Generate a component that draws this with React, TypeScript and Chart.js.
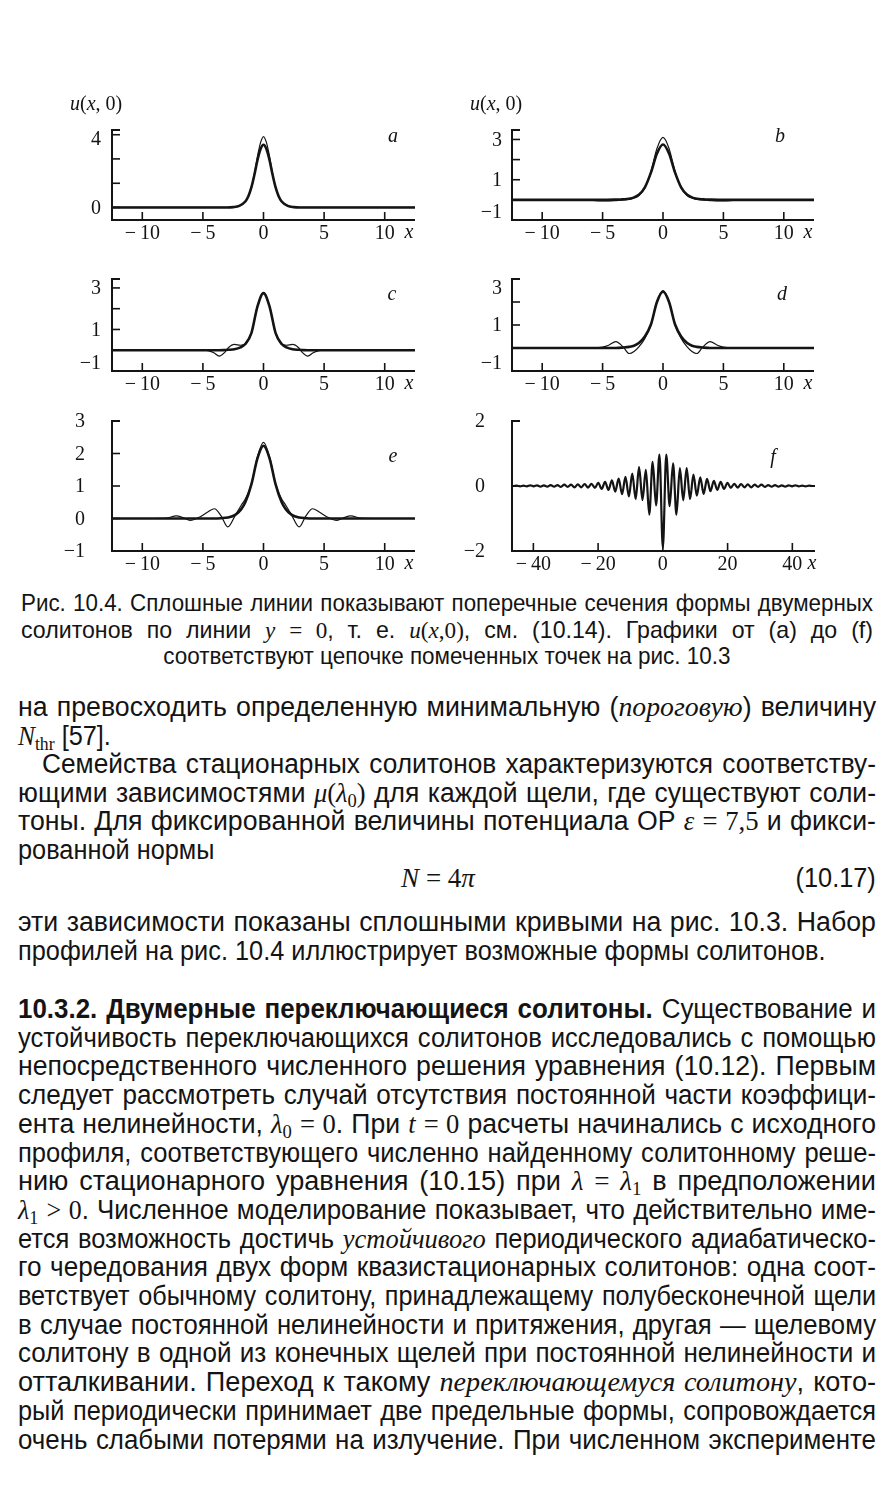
import React, { useEffect, useLayoutEffect, useRef, useState } from "react";
import { Chart, registerables } from "chart.js";

Chart.register(...registerables);

// ---------- DATA ----------
const xTicksNarrow = [-10, -5, 0, 5, 10];
const xLabelsNarrow = ["\u2212\u200910", "\u2212\u20095", "0", "5", "10"];
const xTicksWide = [-40, -20, 0, 20, 40];
const xLabelsWide = ["\u2212\u200940", "\u2212\u200920", "0", "20", "40"];

// panel a
const aX = [-12.5, -6, -4, -3, -2.5, -2, -1.5, -1.25, -1, -0.75, -0.5, -0.25, 0, 0.25, 0.5, 0.75, 1, 1.25, 1.5, 2, 2.5, 3, 4, 6, 12.5];
const aThick = [0, 0, 0, 0, 0.02, 0.09, 0.33, 0.62, 1.1, 1.8, 2.6, 3.2, 3.45, 3.2, 2.6, 1.8, 1.1, 0.62, 0.33, 0.09, 0.02, 0, 0, 0, 0];
const aThin = [0, 0, 0, 0, 0.02, 0.09, 0.33, 0.62, 1.1, 1.85, 2.8, 3.55, 3.9, 3.55, 2.8, 1.85, 1.1, 0.62, 0.33, 0.09, 0.02, 0, 0, 0, 0];
const aYTicks = [0, 1.33, 2.67, 4];
const aYLabels = ["0", "", "", "4"];

// panel b
const bX = [-12.5, -8, -6, -5, -4, -3.5, -3, -2.5, -2, -1.5, -1, -0.5, 0, 0.5, 1, 1.5, 2, 2.5, 3, 3.5, 4, 5, 6, 8, 12.5];
const bThick = [0, 0, 0, 0, 0.01, 0.02, 0.04, 0.1, 0.25, 0.62, 1.35, 2.3, 2.75, 2.3, 1.35, 0.62, 0.25, 0.1, 0.04, 0.02, 0.01, 0, 0, 0, 0];
const bThin = [0, 0, -0.02, -0.05, -0.04, -0.01, 0.01, 0.07, 0.22, 0.6, 1.4, 2.55, 3.1, 2.55, 1.4, 0.6, 0.22, 0.07, 0.01, -0.01, -0.04, -0.05, -0.02, 0, 0];
const bYTicks = [-1, 1, 2, 3];
const bYLabels = ["\u22121", "1", "", "3"];

// panel c
const cX = [-12.5, -8, -6, -5, -4.5, -4.1, -3.65, -3.2, -2.9, -2.4, -1.9, -1.5, -1, -0.5, 0, 0.5, 1, 1.5, 1.9, 2.4, 2.9, 3.2, 3.65, 4.1, 4.5, 5, 6, 8, 12.5];
const cThick = [0, 0, 0, 0, 0, 0, 0, 0.01, 0.02, 0.05, 0.14, 0.3, 0.82, 2.1, 2.75, 2.1, 0.82, 0.3, 0.14, 0.05, 0.02, 0.01, 0, 0, 0, 0, 0, 0, 0];
const cThin = [0, 0, 0.01, 0, -0.03, -0.12, -0.28, -0.1, 0.12, 0.28, 0.24, 0.3, 0.8, 2.12, 2.78, 2.12, 0.8, 0.3, 0.24, 0.28, 0.12, -0.1, -0.28, -0.12, -0.03, 0, 0.01, 0, 0];
const cYTicks = [-1, 1, 2, 3];
const cYLabels = ["\u22121", "1", "", "3"];

// panel d
const dX = [-12.5, -8, -6, -5, -4.5, -3.9, -3.3, -2.8, -2.4, -2, -1.5, -1, -0.5, 0, 0.5, 1, 1.5, 2, 2.4, 2.8, 3.3, 3.9, 4.5, 5, 6, 8, 12.5];
const dThick = [0, 0, 0, 0, 0, 0, 0.02, 0.05, 0.1, 0.22, 0.5, 1.02, 2.0, 2.45, 2.0, 1.02, 0.5, 0.22, 0.1, 0.05, 0.02, 0, 0, 0, 0, 0, 0];
const dThin = [0, -0.02, 0, 0.04, 0.12, 0.28, 0.05, -0.24, -0.15, 0.05, 0.42, 1.0, 2.02, 2.5, 2.02, 1.0, 0.42, 0.05, -0.15, -0.24, 0.05, 0.28, 0.12, 0.04, 0, -0.02, 0];
const dYTicks = [-1, 1, 2, 3];
const dYLabels = ["\u22121", "1", "", "3"];

// panel e
const eX = [-12.5, -9, -8, -7.2, -6.6, -6, -5.3, -4.6, -4.05, -3.5, -2.95, -2.3, -1.85, -1.5, -1, -0.5, 0, 0.5, 1, 1.5, 1.85, 2.3, 2.95, 3.5, 4.05, 4.6, 5.3, 6, 6.6, 7.2, 8, 9, 12.5];
const eThick = [0, 0, 0, 0, 0, 0, 0, 0, 0, 0.01, 0.03, 0.12, 0.28, 0.5, 1.05, 1.85, 2.24, 1.85, 1.05, 0.5, 0.28, 0.12, 0.03, 0.01, 0, 0, 0, 0, 0, 0, 0, 0, 0];
const eThin = [0, 0, 0.01, 0.08, 0.02, -0.06, 0.04, 0.2, 0.3, 0.08, -0.26, 0.12, 0.4, 0.6, 1.05, 1.9, 2.34, 1.9, 1.05, 0.6, 0.4, 0.12, -0.26, 0.08, 0.3, 0.2, 0.04, -0.06, 0.02, 0.08, 0.01, 0, 0];
const eYTicks = [-1, 0, 1, 2, 3];
const eYLabels = ["\u22121", "0", "1", "2", "3"];

// panel f
const fX = [-47, -46.2, -45.15, -44.1, -43.05, -42, -40.95, -39.9, -38.85, -37.8, -36.75, -35.7, -34.65, -33.6, -32.55, -31.5, -30.45, -29.4, -28.35, -27.3, -26.25, -25.2, -24.15, -23.1, -22.05, -21, -19.95, -18.9, -17.85, -16.8, -15.75, -14.7, -13.65, -12.6, -11.55, -10.5, -9.45, -8.4, -7.35, -6.3, -5.25, -4.2, -3.15, -2.1, -1.05, 0, 1.05, 2.1, 3.15, 4.2, 5.25, 6.3, 7.35, 8.4, 9.45, 10.5, 11.55, 12.6, 13.65, 14.7, 15.75, 16.8, 17.85, 18.9, 19.95, 21, 22.05, 23.1, 24.15, 25.2, 26.25, 27.3, 28.35, 29.4, 30.45, 31.5, 32.55, 33.6, 34.65, 35.7, 36.75, 37.8, 38.85, 39.9, 40.95, 42, 43.05, 44.1, 45.15, 46.2, 47];
const fU = [0, 0, 0.01, -0.01, 0.01, -0.01, 0.02, -0.01, 0.02, -0.02, 0.02, -0.02, 0.03, -0.02, 0.03, -0.03, 0.04, -0.03, 0.04, -0.04, 0.05, -0.04, 0.06, -0.05, 0.07, -0.06, 0.1, -0.09, 0.13, -0.12, 0.17, -0.17, 0.23, -0.25, 0.28, -0.32, 0.38, -0.4, 0.58, -0.43, 0.5, -0.88, 0.74, -0.6, 0.97, -1.9, 0.97, -0.62, 0.7, -0.88, 0.55, -0.44, 0.55, -0.4, 0.35, -0.3, 0.27, -0.24, 0.22, -0.16, 0.16, -0.12, 0.13, -0.09, 0.1, -0.06, 0.07, -0.05, 0.06, -0.04, 0.05, -0.04, 0.04, -0.03, 0.04, -0.03, 0.03, -0.02, 0.03, -0.02, 0.02, -0.02, 0.02, -0.01, 0.02, -0.01, 0.01, -0.01, 0.01, 0, 0];
const fYTicks = [-2, 0, 2];
const fYLabels = ["\u22122", "0", "2"];

// ---------- STYLE / LAYOUT ----------
const SERIF = "'Liberation Serif', 'DejaVu Serif', serif";
const SANS = "'Liberation Sans', Arial, sans-serif";
const INK = "#141414";
const PAD = { left: 70, top: 45, right: 30, bottom: 30 };
const THICK = 2.6;
const THIN = 1.2;

type Panel = {
  xs: number[];
  series: { values: number[]; width: number }[];
  xMin: number; xMax: number; yMin: number; yMax: number;
  xTicks: number[]; xLabels: string[];
  yTicks: number[]; yLabels: string[];
  box: { left: number; top: number; right: number; bottom: number };
  letter: string; letterDx: number; letterDy: number;
  showU: boolean; clamp: boolean; labelGap: number; xDx: number;
};

const panels: Panel[] = [
  { xs: aX, series: [{ values: aThick, width: THICK }, { values: aThin, width: THIN }], xMin: -12.5, xMax: 12.5, yMin: -0.69, yMax: 4.26, xTicks: xTicksNarrow, xLabels: xLabelsNarrow, yTicks: aYTicks, yLabels: aYLabels, box: { left: 112, top: 130, right: 415, bottom: 220 }, letter: "a", letterDx: -22, letterDy: 7, showU: true, clamp: true, labelGap: 11, xDx: -6 },
  { xs: bX, series: [{ values: bThick, width: THICK }, { values: bThin, width: THIN }], xMin: -12.5, xMax: 12.5, yMin: -1, yMax: 3.47, xTicks: xTicksNarrow, xLabels: xLabelsNarrow, yTicks: bYTicks, yLabels: bYLabels, box: { left: 512, top: 130, right: 814, bottom: 220 }, letter: "b", letterDx: -34, letterDy: 7, showU: true, clamp: true, labelGap: 10, xDx: -6 },
  { xs: cX, series: [{ values: cThick, width: THICK }, { values: cThin, width: THIN }], xMin: -12.5, xMax: 12.5, yMin: -1, yMax: 3.43, xTicks: xTicksNarrow, xLabels: xLabelsNarrow, yTicks: cYTicks, yLabels: cYLabels, box: { left: 112, top: 279, right: 415, bottom: 371 }, letter: "c", letterDx: -23, letterDy: 16, showU: false, clamp: true, labelGap: 11, xDx: -6 },
  { xs: dX, series: [{ values: dThick, width: THICK }, { values: dThin, width: THIN }], xMin: -12.5, xMax: 12.5, yMin: -1, yMax: 3, xTicks: xTicksNarrow, xLabels: xLabelsNarrow, yTicks: dYTicks, yLabels: dYLabels, box: { left: 512, top: 279, right: 814, bottom: 371 }, letter: "d", letterDx: -32, letterDy: 16, showU: false, clamp: true, labelGap: 10, xDx: -6 },
  { xs: eX, series: [{ values: eThick, width: THICK }, { values: eThin, width: THIN }], xMin: -12.5, xMax: 12.5, yMin: -1, yMax: 3, xTicks: xTicksNarrow, xLabels: xLabelsNarrow, yTicks: eYTicks, yLabels: eYLabels, box: { left: 112, top: 421, right: 415, bottom: 551 }, letter: "e", letterDx: -22, letterDy: 36, showU: false, clamp: false, labelGap: 27, xDx: -6 },
  { xs: fX, series: [{ values: fU, width: 2.2 }], xMin: -46.6, xMax: 47, yMin: -2, yMax: 2, xTicks: xTicksWide, xLabels: xLabelsWide, yTicks: fYTicks, yLabels: fYLabels, box: { left: 512, top: 421, right: 815, bottom: 551 }, letter: "f", letterDx: -42, letterDy: 37, showU: false, clamp: false, labelGap: 27, xDx: -3 },
];

function PanelChart({ cfg }: { cfg: Panel }) {
  const ref = useRef<HTMLCanvasElement>(null);
  const w = cfg.box.right - cfg.box.left + PAD.left + PAD.right;
  const h = cfg.box.bottom - cfg.box.top + PAD.top + PAD.bottom;
  useEffect(() => {
    if (!ref.current) return;
    const axes = {
      id: "bookAxes",
      afterDatasetsDraw(chart: any) {
        const { ctx, chartArea } = chart;
        const { left, right, top, bottom } = chartArea;
        const xs = chart.scales.x;
        const ys = chart.scales.y;
        ctx.save();
        ctx.strokeStyle = INK;
        ctx.fillStyle = INK;
        ctx.lineCap = "butt";
        ctx.lineWidth = 2;
        ctx.beginPath();
        ctx.moveTo(left + 8, top);
        ctx.lineTo(left, top);
        ctx.lineTo(left, bottom);
        ctx.lineTo(right, bottom);
        ctx.stroke();
        ctx.lineWidth = 1.6;
        cfg.yTicks.forEach((v) => {
          const py = ys.getPixelForValue(v);
          ctx.beginPath();
          ctx.moveTo(left, py);
          ctx.lineTo(left + 8, py);
          ctx.stroke();
        });
        cfg.xTicks.forEach((v) => {
          const px = xs.getPixelForValue(v);
          ctx.beginPath();
          ctx.moveTo(px, bottom);
          ctx.lineTo(px, bottom - 8);
          ctx.stroke();
        });
        ctx.font = `20px ${SERIF}`;
        ctx.textAlign = "right";
        ctx.textBaseline = "middle";
        cfg.yTicks.forEach((v, i) => {
          const lab = cfg.yLabels[i];
          if (!lab) return;
          let py = ys.getPixelForValue(v);
          if (cfg.clamp) py = Math.min(Math.max(py, top + 9), bottom - 8);
          ctx.fillText(lab, left - cfg.labelGap, py + 1);
        });
        ctx.textAlign = "center";
        cfg.xTicks.forEach((v, i) => {
          ctx.fillText(cfg.xLabels[i], xs.getPixelForValue(v), bottom + 14);
        });
        ctx.font = `italic 20px ${SERIF}`;
        ctx.fillText("x", right + cfg.xDx, bottom + 13);
        ctx.fillText(cfg.letter, right + cfg.letterDx, top + cfg.letterDy);
        if (cfg.showU) {
          const parts: [string, boolean][] = [["u", true], ["(", false], ["x", true], [", 0)", false]];
          let cx = left - 42;
          const cy = top - 25;
          ctx.textAlign = "left";
          parts.forEach(([t, it]) => {
            ctx.font = `${it ? "italic " : ""}20px ${SERIF}`;
            ctx.fillText(t, cx, cy);
            cx += ctx.measureText(t).width;
          });
        }
        ctx.restore();
      },
    };
    const chart = new Chart(ref.current, {
      type: "line",
      data: {
        datasets: cfg.series.map((s) => ({
          data: cfg.xs.map((x, i) => ({ x, y: s.values[i] })),
          borderColor: INK,
          borderWidth: s.width,
          pointRadius: 0,
          fill: false,
          cubicInterpolationMode: "monotone" as const,
        })),
      },
      options: {
        responsive: false,
        animation: false,
        devicePixelRatio: 1,
        events: [],
        layout: { padding: PAD },
        plugins: { legend: { display: false }, tooltip: { enabled: false } },
        scales: {
          x: { type: "linear", min: cfg.xMin, max: cfg.xMax, display: false },
          y: { type: "linear", min: cfg.yMin, max: cfg.yMax, display: false },
        },
      },
      plugins: [axes],
    });
    return () => chart.destroy();
  }, []);
  return (
    <canvas
      ref={ref}
      width={w}
      height={h}
      style={{ position: "absolute", left: cfg.box.left - PAD.left, top: cfg.box.top - PAD.top, width: w, height: h }}
    />
  );
}

// ---------- TEXT ----------
const M = ({ children }: { children: React.ReactNode }) => (
  <span style={{ fontFamily: SERIF, fontStyle: "italic" }}>{children}</span>
);
const R = ({ children }: { children: React.ReactNode }) => (
  <span style={{ fontFamily: SERIF }}>{children}</span>
);
const I = ({ children }: { children: React.ReactNode }) => (
  <span style={{ fontFamily: SERIF, fontStyle: "italic", fontSize: "1.04em" }}>{children}</span>
);
const Sub = ({ children }: { children: React.ReactNode }) => (
  <span style={{ fontFamily: SERIF, fontSize: "0.7em", verticalAlign: "-0.25em" }}>{children}</span>
);

type Line = { y: number; content: React.ReactNode; mode: "j" | "l" | "c" | "r"; indent?: number };

const captionLines: Line[] = [
  { y: 603, mode: "j", content: "Рис. 10.4. Сплошные линии показывают поперечные сечения формы двумерных" },
  { y: 630, mode: "j", content: <>солитонов по линии <M>y</M> <R>= 0</R>, т. е. <M>u</M><R>(</R><M>x</M><R>,0)</R>, см. (10.14). Графики от (a) до (f)</> },
  { y: 656, mode: "c", content: "соответствуют цепочке помеченных точек на рис. 10.3" },
];

const bodyLines: Line[] = [
  { y: 707, mode: "j", content: <>на превосходить определенную минимальную (<I>пороговую</I>) величину</> },
  { y: 736, mode: "l", content: <><M>N</M><Sub>thr</Sub> [57].</> },
  { y: 764, mode: "j", indent: 24, content: "Семейства стационарных солитонов характеризуются соответству-" },
  { y: 793, mode: "j", content: <>ющими зависимостями <M>μ</M><R>(</R><M>λ</M><Sub>0</Sub><R>)</R> для каждой щели, где существуют соли-</> },
  { y: 821, mode: "j", content: <>тоны. Для фиксированной величины потенциала ОР <M>ε</M> <R>= 7,5</R> и фикси-</> },
  { y: 850, mode: "l", content: "рованной нормы" },
  { y: 878, mode: "r", content: "(10.17)" },
  { y: 922, mode: "j", content: "эти зависимости показаны сплошными кривыми на рис. 10.3. Набор" },
  { y: 951, mode: "l", content: "профилей на рис. 10.4 иллюстрирует возможные формы солитонов." },
  { y: 1009, mode: "j", content: <><b>10.3.2. Двумерные переключающиеся солитоны.</b> Существование и</> },
  { y: 1038, mode: "j", content: "устойчивость переключающихся солитонов исследовались с помощью" },
  { y: 1066, mode: "j", content: "непосредственного численного решения уравнения (10.12). Первым" },
  { y: 1095, mode: "j", content: "следует рассмотреть случай отсутствия постоянной части коэффици-" },
  { y: 1124, mode: "j", content: <>ента нелинейности, <M>λ</M><Sub>0</Sub> <R>= 0</R>. При <M>t</M> <R>= 0</R> расчеты начинались с исходного</> },
  { y: 1153, mode: "j", content: "профиля, соответствующего численно найденному солитонному реше-" },
  { y: 1181, mode: "j", content: <>нию стационарного уравнения (10.15) при <M>λ</M> <R>=</R> <M>λ</M><Sub>1</Sub> в предположении</> },
  { y: 1210, mode: "j", content: <><M>λ</M><Sub>1</Sub> <R>&gt; 0</R>. Численное моделирование показывает, что действительно име-</> },
  { y: 1239, mode: "j", content: <>ется возможность достичь <I>устойчивого</I> периодического адиабатическо-</> },
  { y: 1267, mode: "j", content: "го чередования двух форм квазистационарных солитонов: одна соот-" },
  { y: 1296, mode: "j", content: "ветствует обычному солитону, принадлежащему полубесконечной щели" },
  { y: 1325, mode: "j", content: "в случае постоянной нелинейности и притяжения, другая — щелевому" },
  { y: 1353, mode: "j", content: "солитону в одной из конечных щелей при постоянной нелинейности и" },
  { y: 1382, mode: "j", content: <>отталкивании. Переход к такому <I>переключающемуся солитону</I>, кото-</> },
  { y: 1411, mode: "j", content: "рый периодически принимает две предельные формы, сопровождается" },
  { y: 1440, mode: "j", content: "очень слабыми потерями на излучение. При численном эксперименте" },
];

function TextGroup({ lines, size, left, width, stretch }: { lines: Line[]; size: number; left: number; width: number; stretch: number }) {
  const refs = useRef<(HTMLSpanElement | null)[]>([]);
  const [ks, setKs] = useState<number[]>(() => lines.map(() => 0.85));
  useLayoutEffect(() => {
    const fits = lines.map((l, i) => {
      const el = refs.current[i];
      const nat = el ? el.getBoundingClientRect().width : 0;
      const avail = width - (l.indent || 0);
      return nat > 0 ? avail / nat : 1;
    });
    let kBase = 10;
    lines.forEach((l, i) => { if (l.mode === "j") kBase = Math.min(kBase, fits[i]); });
    kBase *= 0.995;
    setKs(lines.map((l, i) => (l.mode === "j" ? Math.min(fits[i] * 0.99, kBase * stretch) : kBase)));
  }, []);
  const base: React.CSSProperties = {
    position: "absolute",
    height: 32,
    lineHeight: "32px",
    fontSize: size,
    fontFamily: SANS,
    color: INK,
    whiteSpace: "nowrap",
  };
  return (
    <>
      {lines.map((l, i) => {
        const k = ks[i];
        const ind = l.indent || 0;
        const avail = width - ind;
        if (l.mode === "r") {
          return (
            <div key={i} style={{ ...base, top: l.y - 16, right: 893 - (left + width), width: avail / k, textAlign: "right", transform: `scaleX(${k})`, transformOrigin: "100% 0" }}>
              {l.content}
            </div>
          );
        }
        if (l.mode === "c") {
          return (
            <div key={i} style={{ ...base, top: l.y - 16, left: left + width / 2 - avail / k / 2, width: avail / k, textAlign: "center", transform: `scaleX(${k})`, transformOrigin: "50% 0" }}>
              {l.content}
            </div>
          );
        }
        const align = l.mode === "j" ? "justify" : "left";
        return (
          <div
            key={i}
            style={{ ...base, top: l.y - 16, left: left + ind, width: avail / k, textAlign: align as any, textAlignLast: align as any, transform: `scaleX(${k})`, transformOrigin: "0 0" } as React.CSSProperties}
          >
            {l.content}
          </div>
        );
      })}
      <div style={{ position: "absolute", left: 0, top: 0, visibility: "hidden" }}>
        {lines.map((l, i) => (
          <div key={i}>
            <span ref={(el) => { refs.current[i] = el; }} style={{ whiteSpace: "nowrap", fontSize: size, fontFamily: SANS }}>
              {l.content}
            </span>
          </div>
        ))}
      </div>
    </>
  );
}

export default function App() {
  return (
    <div style={{ position: "absolute", left: 0, top: 0, width: 893, height: 1500, background: "#fff", overflow: "hidden" }}>
      {panels.map((p, i) => (
        <PanelChart key={i} cfg={p} />
      ))}
      <TextGroup lines={captionLines} size={24} left={21} width={852} stretch={1.03} />
      <TextGroup lines={bodyLines} size={27} left={18} width={858} stretch={1.07} />
      <div style={{ position: "absolute", left: 378, top: 862, width: 120, height: 32, lineHeight: "32px", fontSize: 27, fontFamily: SERIF, textAlign: "center", color: INK }}>
        <i>N</i> = 4<i>π</i>
      </div>
    </div>
  );
}
